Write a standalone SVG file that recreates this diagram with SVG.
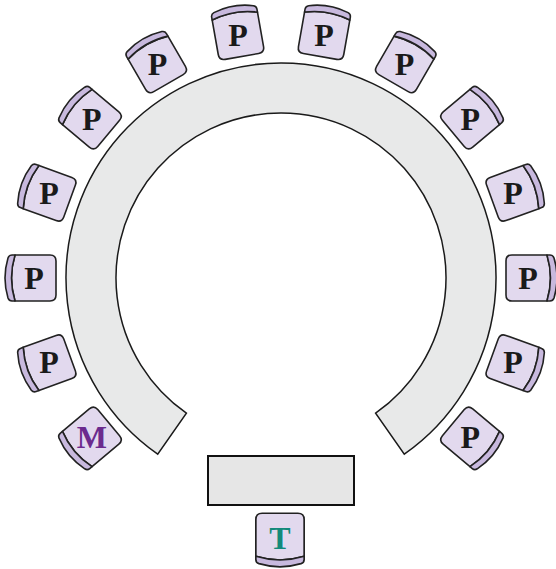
<svg xmlns="http://www.w3.org/2000/svg" xmlns:xlink="http://www.w3.org/1999/xlink" width="556" height="569" viewBox="0 0 556 569">
<style>
.ring{fill:#e8e9e9;stroke:#1a1a1a;stroke-width:1.5;stroke-linejoin:miter}
.table{fill:#e6e6e6;stroke:#111;stroke-width:2}
.body{fill:#e2d9ee;stroke:#222;stroke-width:1.6;stroke-linejoin:round}
.band{fill:#c8b9de;stroke:#222;stroke-width:1.6;stroke-linejoin:round}
.lbl{font-family:"Liberation Serif","Times New Roman",serif;font-weight:bold;font-size:32px;text-anchor:middle}
.p{fill:#1a1a1a}
.m{fill:#6b2a8e}
.t{fill:#138a7b}
</style>
<defs>
<g id="chair">
<path class="body" d="M -23,-16 Q 0,-23 23,-16 L 23,19 Q 23,25 17,25 L -17,25 Q -23,25 -23,19 Z"/>
<path class="band" d="M -23,-16 Q 0,-23 23,-16 L 23,-19 Q 23,-22 20,-23 Q 0,-29 -20,-23 Q -23,-22 -23,-19 Z"/>
</g>
</defs>
<g id="ring">
<path class="ring" d="M 157.7,454.1 A 215 215 0 1 1 404.3,454.1 L 375.6,413.2 A 165 165 0 1 0 186.4,413.2 Z"/>
</g>
<g id="table">
<rect class="table" x="208" y="456" width="146" height="49"/>
</g>
<g id="seat-m"><use xlink:href="#chair" transform="translate(89.5,438.7) rotate(230)"/><text class="lbl m" x="91.8" y="447.5">M</text></g>
<g id="seat-p1"><use xlink:href="#chair" transform="translate(46.1,363.5) rotate(250)"/><text class="lbl p" x="48.9" y="373.2">P</text></g>
<g id="seat-p2"><use xlink:href="#chair" transform="translate(31,278) rotate(270)"/><text class="lbl p" x="34" y="288.7">P</text></g>
<g id="seat-p3"><use xlink:href="#chair" transform="translate(46.1,192.5) rotate(290)"/><text class="lbl p" x="48.9" y="204.2">P</text></g>
<g id="seat-p4"><use xlink:href="#chair" transform="translate(89.5,117.3) rotate(310)"/><text class="lbl p" x="91.8" y="129.9">P</text></g>
<g id="seat-p5"><use xlink:href="#chair" transform="translate(156,61.5) rotate(330)"/><text class="lbl p" x="157.5" y="74.8">P</text></g>
<g id="seat-p6"><use xlink:href="#chair" transform="translate(237.6,31.8) rotate(350)"/><text class="lbl p" x="238.1" y="45.5">P</text></g>
<g id="seat-p7"><use xlink:href="#chair" transform="translate(324.4,31.8) rotate(10)"/><text class="lbl p" x="323.9" y="45.5">P</text></g>
<g id="seat-p8"><use xlink:href="#chair" transform="translate(406,61.5) rotate(30)"/><text class="lbl p" x="404.5" y="74.8">P</text></g>
<g id="seat-p9"><use xlink:href="#chair" transform="translate(472.5,117.3) rotate(50)"/><text class="lbl p" x="470.2" y="129.9">P</text></g>
<g id="seat-p10"><use xlink:href="#chair" transform="translate(515.9,192.5) rotate(70)"/><text class="lbl p" x="513.1" y="204.2">P</text></g>
<g id="seat-p11"><use xlink:href="#chair" transform="translate(531,278) rotate(90)"/><text class="lbl p" x="528" y="288.7">P</text></g>
<g id="seat-p12"><use xlink:href="#chair" transform="translate(515.9,363.5) rotate(110)"/><text class="lbl p" x="513.1" y="373.2">P</text></g>
<g id="seat-p13"><use xlink:href="#chair" transform="translate(472.5,438.7) rotate(130)"/><text class="lbl p" x="470.2" y="447.5">P</text></g>
<g id="seat-t"><use xlink:href="#chair" transform="translate(280,539.5) rotate(180) scale(1.05)"/><text class="lbl t" x="280" y="548.5">T</text></g>
<g id="connectors"/>
</svg>
